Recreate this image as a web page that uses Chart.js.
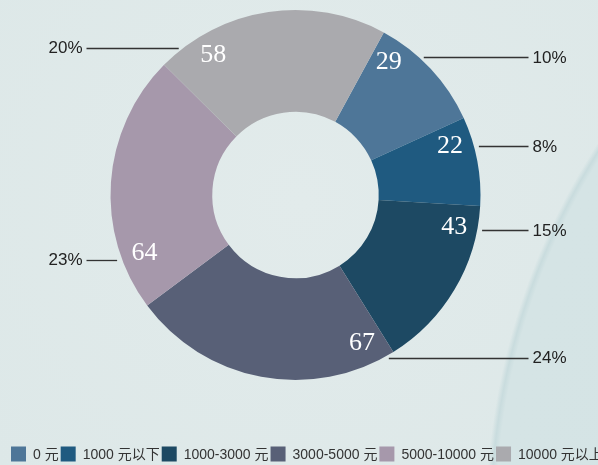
<!DOCTYPE html>
<html>
<head>
<meta charset="utf-8">
<script src="https://cdn.jsdelivr.net/npm/chart.js@4.4.1/dist/chart.umd.min.js"></script>
<style>
  html, body { margin: 0; padding: 0; }
  body {
    width: 598px; height: 465px; overflow: hidden;
    background:
      radial-gradient(circle 700px at 1178px 520px, #d3e3e4 0, #d5e4e5 682px, #c9dcde 687px, rgba(223,233,233,0) 692px),
      radial-gradient(circle at 300px 200px, #e2ebeb 0, #dde8e8 100%);
  }
  #wrap { position: relative; width: 598px; height: 465px; }
</style>
</head>
<body>
<div id="wrap"><canvas id="chart-area"></canvas></div>
<script>
// categories and values
const categorias = ['0 元', '1000 元以下', '1000-3000 元', '3000-5000 元', '5000-10000 元', '10000 元以上'];
const valores = [29, 22, 43, 67, 64, 58];
const colores = ['#4e7698', '#1f5a80', '#1d4963', '#586077', '#a698ab', '#aaaaae'];

// where the labels sit inside each slice (fraction of the arc from its start)
const fracDentro = [0.18, 0.25, 0.15, 0.09, 0.19, 0.2];
const fracFuera = [0.36, 0.33, 0.14, 0.04, 0.2, 0.11];

const etiquetasPlugin = {
  id: 'etiquetas',
  afterDatasetsDraw(chart) {
    const ctx = chart.ctx;
    const meta = chart.getDatasetMeta(0);
    const total = valores.reduce((a, b) => a + b, 0);
    ctx.save();
    meta.data.forEach((arc, i) => {
      const p = arc.getProps(['x', 'y', 'startAngle', 'endAngle', 'outerRadius'], true);
      const span = p.endAngle - p.startAngle;

      // value inside the slice
      const aIn = p.startAngle + fracDentro[i] * span;
      const rIn = p.outerRadius - 23;
      ctx.fillStyle = '#ffffff';
      ctx.font = '26px "Liberation Serif", "DejaVu Serif", serif';
      ctx.textAlign = 'center';
      ctx.textBaseline = 'middle';
      ctx.fillText(String(valores[i]), p.x + rIn * Math.cos(aIn), p.y + rIn * Math.sin(aIn));

      // percentage outside with a flat leader line
      const aOut = p.startAngle + fracFuera[i] * span;
      const ex = p.x + p.outerRadius * Math.cos(aOut);
      const ey = p.y + p.outerRadius * Math.sin(aOut);
      const derecha = Math.cos(aOut) >= 0;
      const colX = derecha ? p.x + 233 : p.x - 209;
      ctx.strokeStyle = '#333333';
      ctx.lineWidth = 1.3;
      ctx.beginPath();
      ctx.moveTo(ex + (derecha ? 5 : -5), Math.round(ey) + 0.5);
      ctx.lineTo(colX, Math.round(ey) + 0.5);
      ctx.stroke();
      ctx.fillStyle = '#222222';
      ctx.font = '17px "Liberation Sans", Arial, sans-serif';
      ctx.textAlign = derecha ? 'left' : 'right';
      ctx.fillText(Math.round(valores[i] / total * 100) + '%', derecha ? colX + 4 : colX - 4, ey + 1);
    });
    ctx.restore();
  }
};

// legend drawn tight along the bottom edge, like the original
const leyendaPlugin = {
  id: 'leyenda',
  afterDraw(chart) {
    const ctx = chart.ctx;
    const caja = 15;
    let x = 11;
    const yc = 454;
    ctx.save();
    ctx.font = '14px "Liberation Sans", "Noto Sans CJK SC", sans-serif';
    ctx.textBaseline = 'middle';
    ctx.textAlign = 'left';
    categorias.forEach((nombre, i) => {
      ctx.fillStyle = colores[i];
      ctx.fillRect(x, yc - caja / 2, caja, caja);
      ctx.fillStyle = '#333333';
      ctx.fillText(nombre, x + caja + 7, yc + 1);
      x += caja + 7 + ctx.measureText(nombre).width + 2;
    });
    ctx.restore();
  }
};

const ctx = document.getElementById('chart-area').getContext('2d');
const chart = new Chart(ctx, {
  type: 'doughnut',
  data: {
    labels: categorias,
    datasets: [{
      data: valores,
      backgroundColor: colores,
      borderWidth: 0,
      hoverOffset: 0
    }]
  },
  options: {
    responsive: true,
    maintainAspectRatio: false,
    animation: false,
    rotation: 28.5,
    cutout: '45%',
    layout: { padding: { top: 10, bottom: 85, left: 0, right: 7 } },
    plugins: {
      tooltip: { enabled: false },
      legend: { display: false }
    }
  },
  plugins: [etiquetasPlugin, leyendaPlugin]
});
</script>
</body>
</html>
